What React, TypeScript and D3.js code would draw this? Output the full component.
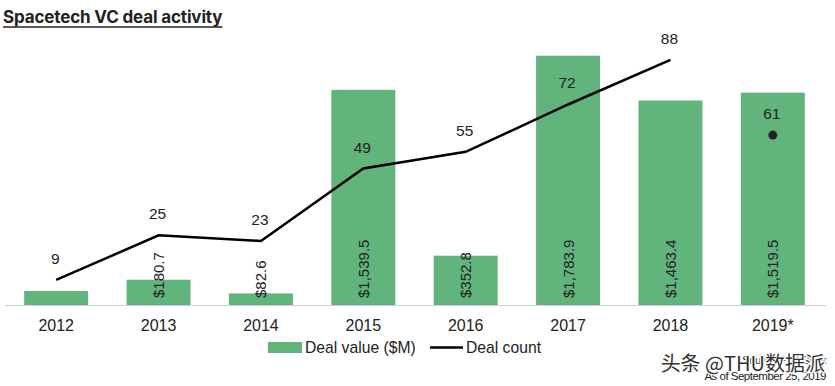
import { useEffect, useRef } from "react";
import * as d3 from "d3";

const years = ["2012", "2013", "2014", "2015", "2016", "2017", "2018", "2019*"];
const dealValue = [100, 180.7, 82.6, 1539.5, 352.8, 1783.9, 1463.4, 1519.5];
const valueLabels = ["", "$180.7", "$82.6", "$1,539.5", "$352.8", "$1,783.9", "$1,463.4", "$1,519.5"];
const dealCount = [9, 25, 23, 49, 55, 72, 88, 61];

const W = 835;
const H = 386;
const GREEN = "#62b47d";
const INK = "#222";
const FONT = "'Liberation Sans', Arial, sans-serif";

export default function App() {
  const ref = useRef<SVGSVGElement>(null);

  useEffect(() => {
    if (!ref.current) return;
    const svg = d3.select(ref.current);
    svg.selectAll("*").remove();

    const base = 305;
    const x = d3.scaleBand().domain(years).range([5, 824]).paddingInner(0.375).paddingOuter(0.1875);
    const yVal = d3.scaleLinear().domain([0, 2000]).range([base, 25.5]);
    const yCnt = d3.scaleLinear().domain([0, 100]).range([base, 26.5]);
    const cx = (y: string) => (x(y) ?? 0) + x.bandwidth() / 2;

    // title
    const title = svg
      .append("text")
      .attr("x", 3)
      .attr("y", 23)
      .attr("font-family", "Inter, 'Liberation Sans', sans-serif")
      .attr("font-weight", 700)
      .attr("font-size", 17)
      .attr("letter-spacing", -0.15)
      .attr("fill", INK)
      .text("Spacetech VC deal activity");
    const tw = (title.node() as SVGTextElement).getComputedTextLength();
    svg.append("line").attr("x1", 3).attr("x2", 3 + tw).attr("y1", 27).attr("y2", 27).attr("stroke", INK).attr("stroke-width", 1.6);

    // bars
    svg
      .selectAll(".bar")
      .data(years)
      .join("rect")
      .attr("x", (d) => x(d) ?? 0)
      .attr("width", x.bandwidth())
      .attr("y", (_, i) => yVal(dealValue[i]))
      .attr("height", (_, i) => base - yVal(dealValue[i]))
      .attr("fill", GREEN);

    // baseline
    svg.append("line").attr("x1", 5).attr("x2", 826).attr("y1", base + 0.5).attr("y2", base + 0.5).attr("stroke", "#cfcfcf");

    // value labels (rotated)
    svg
      .selectAll(".vl")
      .data(years)
      .join("text")
      .attr("transform", (d) => `translate(${cx(d) + 5.5},${base - 7}) rotate(-90)`)
      .attr("font-family", FONT)
      .attr("font-size", 15)
      .attr("fill", INK)
      .text((_, i) => valueLabels[i]);

    // line (through 2018)
    const pts = years.slice(0, 7).map((y, i) => [cx(y), yCnt(dealCount[i])] as [number, number]);
    svg.append("path").attr("d", d3.line()(pts)).attr("fill", "none").attr("stroke", "#000").attr("stroke-width", 2.5);
    svg.append("circle").attr("cx", cx(years[7])).attr("cy", yCnt(dealCount[7])).attr("r", 4.5).attr("fill", "#222");

    // count labels
    svg
      .selectAll(".cl")
      .data(years)
      .join("text")
      .attr("x", (d) => cx(d) - 1)
      .attr("y", (_, i) => yCnt(dealCount[i]) - 16)
      .attr("text-anchor", "middle")
      .attr("font-family", FONT)
      .attr("font-size", 15.5)
      .attr("fill", INK)
      .text((_, i) => String(dealCount[i]));

    // x axis labels
    svg
      .selectAll(".xl")
      .data(years)
      .join("text")
      .attr("x", (d) => cx(d))
      .attr("y", 331)
      .attr("text-anchor", "middle")
      .attr("font-family", FONT)
      .attr("font-size", 16)
      .attr("fill", INK)
      .text((d) => d);

    // legend
    svg.append("rect").attr("x", 268).attr("y", 342).attr("width", 34).attr("height", 11).attr("fill", GREEN);
    svg.append("text").attr("x", 305).attr("y", 353).attr("font-family", FONT).attr("font-size", 15.7).attr("fill", INK).text("Deal value ($M)");
    svg.append("line").attr("x1", 430).attr("x2", 463).attr("y1", 347.5).attr("y2", 347.5).attr("stroke", "#000").attr("stroke-width", 2.5);
    svg.append("text").attr("x", 466).attr("y", 353).attr("font-family", FONT).attr("font-size", 15.7).attr("fill", INK).text("Deal count");

    // source notes
    svg.append("text").attr("x", 826).attr("y", 364).attr("text-anchor", "end").attr("font-family", FONT).attr("font-size", 11).attr("letter-spacing", -0.4).attr("fill", INK).text("Source: PitchBook");
    svg.append("text").attr("x", 826).attr("y", 380).attr("text-anchor", "end").attr("font-family", FONT).attr("font-size", 11.5).attr("letter-spacing", -0.5).attr("fill", INK).text("As of September 25, 2019");

    // watermark
    svg
      .append("text")
      .attr("x", 825)
      .attr("y", 371)
      .attr("text-anchor", "end")
      .attr("font-family", "'Noto Sans CJK SC', sans-serif")
      .attr("font-size", 20)
      .attr("fill", "#333")
      .attr("stroke", "#fff")
      .attr("stroke-width", 2.5)
      .attr("paint-order", "stroke")
      .text("头条 @THU数据派");
  }, []);

  return (
    <svg
      ref={ref}
      width={W}
      height={H}
      style={{ position: "absolute", left: 0, top: 0, background: "#fff" }}
    />
  );
}
